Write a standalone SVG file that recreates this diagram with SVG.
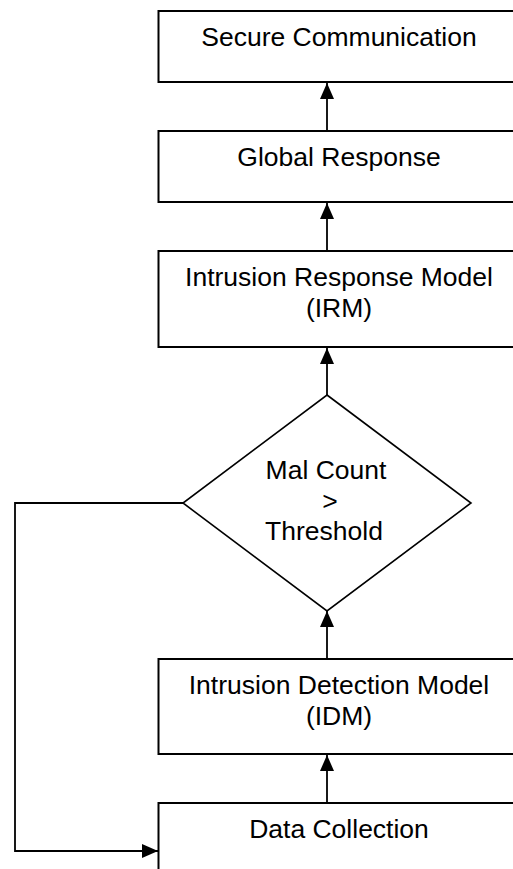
<svg xmlns="http://www.w3.org/2000/svg" width="513" height="869" viewBox="0 0 513 869">
<style>
.box{fill:#fff;stroke:#000;stroke-width:2}
.lbl{font-family:"Liberation Sans",Arial,sans-serif;font-size:26.5px;fill:#000;text-anchor:middle}
.edge{fill:none;stroke:#000;stroke-width:1.8}
</style>
<defs>
<marker id="arr" markerUnits="userSpaceOnUse" markerWidth="16" markerHeight="14" refX="16" refY="7" orient="auto">
<path d="M0,0 L16,7 L0,14 Z" fill="#000"/>
</marker>
</defs>
<rect width="513" height="869" fill="#fff"/>
<g id="connectors">
<line class="edge" x1="327" y1="131" x2="327" y2="83" marker-end="url(#arr)"/>
<line class="edge" x1="327" y1="251" x2="327" y2="203" marker-end="url(#arr)"/>
<line class="edge" x1="327" y1="395" x2="327" y2="348" marker-end="url(#arr)"/>
<line class="edge" x1="327" y1="659" x2="327" y2="611" marker-end="url(#arr)"/>
<line class="edge" x1="327" y1="803" x2="327" y2="755" marker-end="url(#arr)"/>
<polyline class="edge" points="183,503 15,503 15,851 158,851" marker-end="url(#arr)"/>
</g>
<g id="secure">
<rect class="box" x="158.5" y="11" width="361" height="71"/>
<text class="lbl" x="339" y="46">Secure Communication</text>
</g>
<g id="global">
<rect class="box" x="158.5" y="131" width="361" height="71"/>
<text class="lbl" x="339" y="166">Global Response</text>
</g>
<g id="irm">
<rect class="box" x="158.5" y="251" width="361" height="96"/>
<text class="lbl" x="339" y="286">Intrusion Response Model</text>
<text class="lbl" x="339" y="317">(IRM)</text>
</g>
<g id="decision">
<polygon points="327,395 471,503 327,611 183,503" fill="#fff" stroke="#000" stroke-width="1.6"/>
<text class="lbl" x="326" y="479">Mal Count</text>
<text class="lbl" x="330" y="510">&gt;</text>
<text class="lbl" x="324" y="540">Threshold</text>
</g>
<g id="idm">
<rect class="box" x="158.5" y="659" width="361" height="95"/>
<text class="lbl" x="339" y="694">Intrusion Detection Model</text>
<text class="lbl" x="339" y="725">(IDM)</text>
</g>
<g id="data">
<rect class="box" x="158.5" y="803" width="361" height="80"/>
<text class="lbl" x="339" y="838">Data Collection</text>
</g>
</svg>
